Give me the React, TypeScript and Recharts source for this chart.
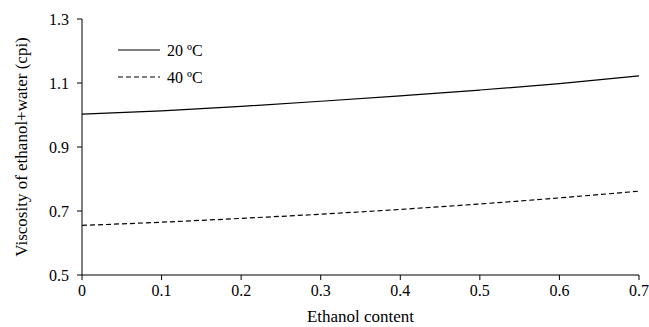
import { LineChart, Line, XAxis, YAxis } from "recharts"

const ethanol = [0, 0.1, 0.2, 0.3, 0.4, 0.5, 0.6, 0.7]
const visc20 = [1.003, 1.013, 1.027, 1.043, 1.06, 1.078, 1.098, 1.122]
const visc40 = [0.655, 0.665, 0.677, 0.69, 0.705, 0.722, 0.741, 0.762]
const seriesNames = ["20 ºC", "40 ºC"]
const xTicks = [0, 0.1, 0.2, 0.3, 0.4, 0.5, 0.6, 0.7]
const yTicks = [0.5, 0.7, 0.9, 1.1, 1.3]

const data = ethanol.map((x, i) => ({ x, t20: visc20[i], t40: visc40[i] }))

const font = "'Liberation Serif', 'Times New Roman', serif"
const tickStyle = { fill: "#000", fontSize: 16, fontFamily: font }
const labelStyle = { fill: "#000", fontSize: 17, fontFamily: font, textAnchor: "middle" as const }

// legend drawn on top of the plot, like the original figure
function LegendBox() {
  return (
    <svg
      width={130}
      height={60}
      style={{ position: "absolute", left: 118, top: 40 }}
    >
      {seriesNames.map((name, i) => (
        <g key={name} transform={`translate(0, ${i * 27})`}>
          <line
            x1={0}
            x2={42}
            y1={10}
            y2={10}
            stroke="#000"
            strokeWidth={1.2}
            strokeDasharray={i === 1 ? "5 3" : undefined}
          />
          <text x={49} y={15.5} fontSize={16} fontFamily={font} fill="#000">
            {name}
          </text>
        </g>
      ))}
    </svg>
  )
}

export default function App() {
  return (
    <div style={{ position: "absolute", left: 0, top: 0, background: "#fff" }}>
      <LineChart
        width={649}
        height={327}
        data={data}
        margin={{ top: 19, right: 10, bottom: 0, left: 0 }}
      >
        <XAxis
          dataKey="x"
          type="number"
          domain={[0, 0.7]}
          ticks={xTicks}
          tickFormatter={(v) => (v === 0 ? "0" : v.toFixed(1))}
          tick={tickStyle}
          tickSize={5}
          tickMargin={5}
          stroke="#000"
          height={52}
          label={{
            value: "Ethanol content",
            position: "insideBottom",
            offset: 5,
            style: labelStyle,
          }}
        />
        <XAxis
          xAxisId="top"
          dataKey="x"
          type="number"
          domain={[0, 0.7]}
          orientation="top"
          tick={false}
          tickLine={false}
          height={0}
          stroke="#000"
        />
        <YAxis
          type="number"
          domain={[0.5, 1.3]}
          ticks={yTicks}
          tickFormatter={(v) => v.toFixed(1)}
          tick={tickStyle}
          tickSize={5}
          tickMargin={8}
          stroke="#000"
          width={82}
          label={{
            value: "Viscosity of ethanol+water (cpi)",
            angle: -90,
            position: "insideLeft",
            offset: 21,
            style: labelStyle,
          }}
        />
        <YAxis
          yAxisId="right"
          orientation="right"
          domain={[0.5, 1.3]}
          tick={false}
          tickLine={false}
          width={0}
          stroke="#000"
        />
        <Line
          type="monotone"
          dataKey="t20"
          name={seriesNames[0]}
          stroke="#000"
          strokeWidth={1.2}
          dot={false}
          isAnimationActive={false}
        />
        <Line
          type="monotone"
          dataKey="t40"
          name={seriesNames[1]}
          stroke="#000"
          strokeWidth={1.2}
          strokeDasharray="5 3"
          dot={false}
          isAnimationActive={false}
        />
      </LineChart>
      <LegendBox />
    </div>
  )
}
